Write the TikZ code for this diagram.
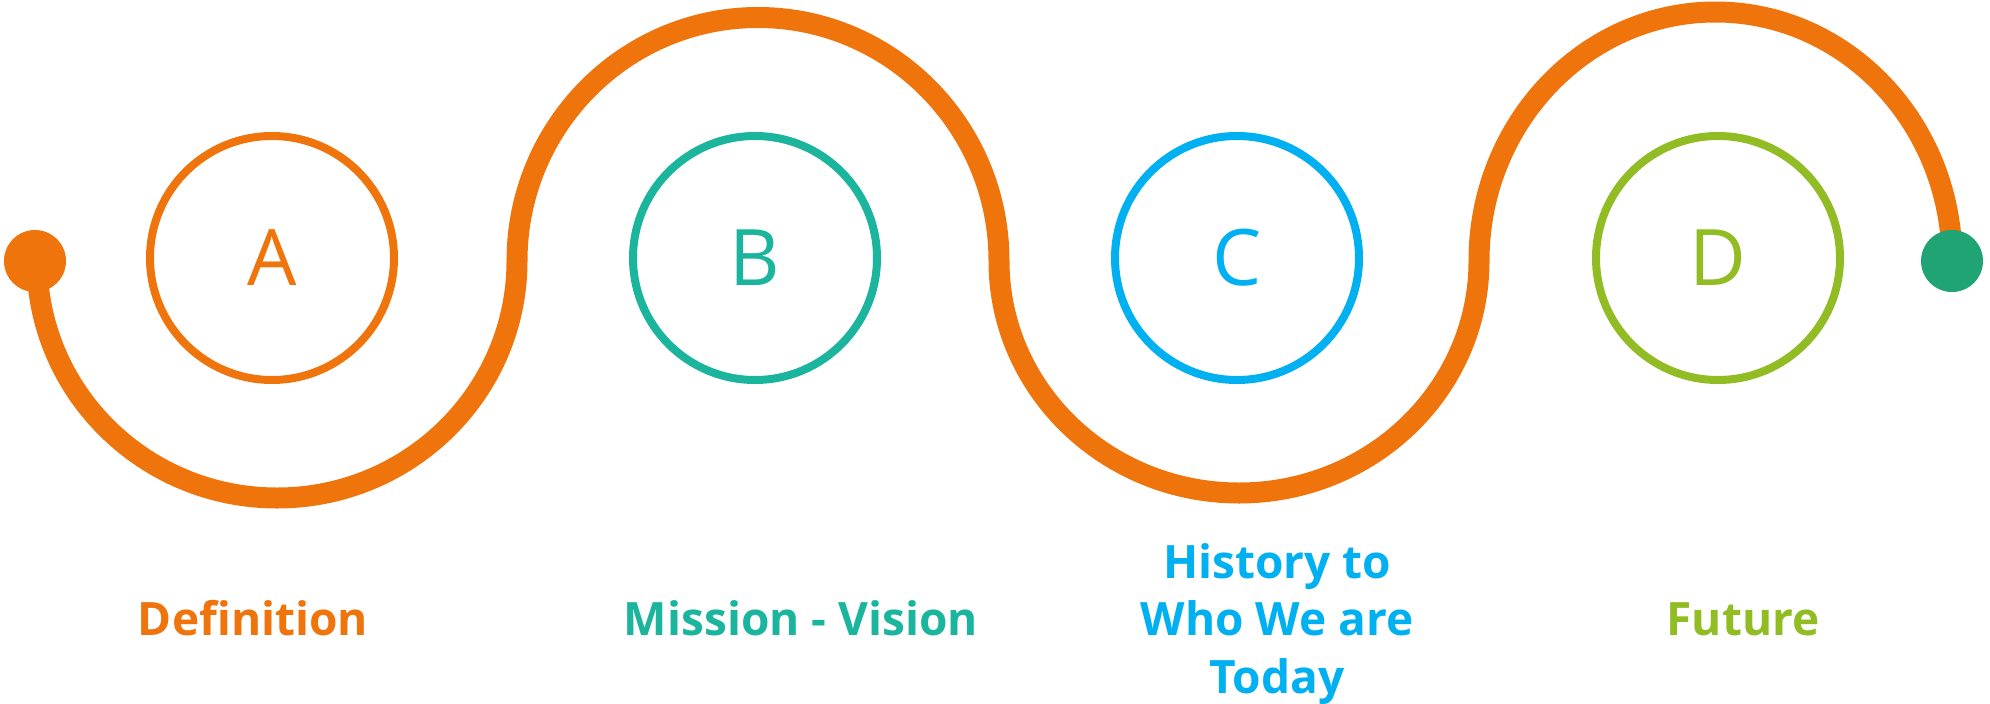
\documentclass[tikz,border=0pt]{standalone}
\usepackage{fontspec}
\setmainfont{Open Sans}
\definecolor{roadorange}{HTML}{EE740B}
\definecolor{teal1}{HTML}{1BB59E}
\definecolor{blue1}{HTML}{00B0F0}
\definecolor{lime1}{HTML}{92BC24}
\definecolor{dotgreen}{HTML}{20A474}
\begin{document}
\begin{tikzpicture}[x=1pt,y=-1pt,
  stage/.style={circle, draw=#1, line width=8pt, minimum size=244pt, inner sep=0pt,
    text=#1, font=\fontsize{78}{90}\selectfont},
  lbl/.style={anchor=base, inner sep=0pt, text=#1, font=\bfseries\fontsize{46}{57.5}\selectfont},
  road/.style={draw=roadorange, line width=21pt},
  enddot/.style={circle, fill=#1, minimum size=62pt, inner sep=0pt}]
\useasboundingbox (0,0) rectangle (1990,704);
% stage circles
\node[stage=roadorange] (sa) at (272,258) {A};
\node[stage=teal1] (sb) at (755,258) {B};
\node[stage=blue1] (sc) at (1237,258) {C};
\node[stage=lime1] (sd) at (1718,258) {D};
% road
\coordinate (rs) at (35,261);
\coordinate (re) at (1952,261);
\draw[road] (rs) -- (37,261)
  arc[start angle=180, end angle=0, x radius=240, y radius=237]
  arc[start angle=180, end angle=360, x radius=241, y radius=243.5]
  arc[start angle=180, end angle=0, x radius=240, y radius=232]
  arc[start angle=180, end angle=360, x radius=236.5, y radius=249] -- (re);
\node[enddot=roadorange] (dl) at (rs) {};
\node[enddot=dotgreen] (dr) at (re) {};
% labels
\node[lbl=roadorange] (la) at (253,635) {Definition};
\node[lbl=teal1] (lb) at (801,635) {Mission - Vision};
\node[lbl=blue1] (lc) at (1277,578) {\begin{tabular}[t]{@{}c@{}}History to\\Who We are\\Today\end{tabular}};
\node[lbl=lime1] (ld) at (1743,635) {Future};
\end{tikzpicture}
\end{document}
